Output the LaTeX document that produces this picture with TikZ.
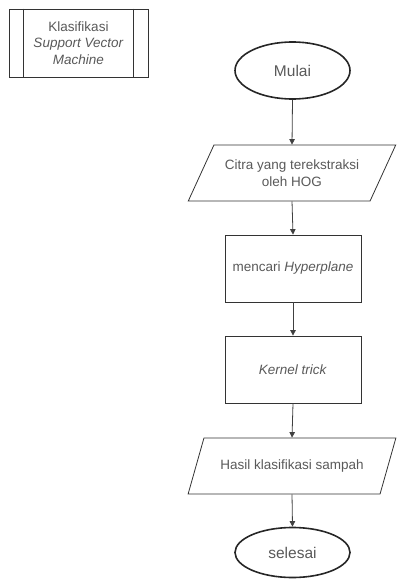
\documentclass[tikz,border=0pt]{standalone}
\usepackage{fontspec}
\setmainfont{Liberation Sans}
\usepackage{tikz}
\usetikzlibrary{arrows.meta,shapes.geometric}
\newcommand{\arw}{-{Triangle[length=5.5pt,width=5.5pt]}}

\begin{document}
\begin{tikzpicture}[x=1pt,y=-1pt,font=\fontsize{13.5}{16.5}\selectfont,
  txt/.style={text=black!65,align=center},
  terminal/.style={ellipse,draw=black!85,line width=1.6pt,minimum width=115pt,minimum height=57pt,font=\fontsize{15.5}{18}\selectfont,txt},
  io/.style={trapezium,trapezium left angle=55,trapezium right angle=125,trapezium stretches,draw=black!80,line width=.8pt,minimum width=208pt,minimum height=56pt,txt},
  proc/.style={rectangle,draw=black!80,line width=.8pt,minimum width=136pt,minimum height=67pt,txt}]
\useasboundingbox (0,0) rectangle (398,583);
%predefined process
\node[proc,minimum width=139pt,minimum height=68pt] (svm) at (78.5,43) {Klasifikasi\\\textit{Support Vector}\\\textit{Machine}};
\draw[black!80,line width=.8pt] ([xshift=15pt]svm.north west) -- ([xshift=15pt]svm.south west);
\draw[black!80,line width=.8pt] ([xshift=-15pt]svm.north east) -- ([xshift=-15pt]svm.south east);
%flow
\node[terminal] (mulai) at (292.5,70.5) {Mulai};
\node[io] (citra) at (292,173) {Citra yang terekstraksi\\oleh HOG};
\node[proc] (hyper) at (293,268.5) {mencari \textit{Hyperplane}};
\node[proc] (kernel) at (293,369.5) {\textit{Kernel trick}};
\node[io] (hasil) at (292,466) {Hasil klasifikasi sampah};
\node[terminal,minimum height=50pt] (selesai) at (292.5,552.5) {selesai};
\draw[black!75,line width=.8pt,\arw] (mulai.south) -- (citra.north);
\draw[black!75,line width=.8pt,\arw] (citra.south) -- (hyper.north);
\draw[black!75,line width=.8pt,\arw] (hyper.south) -- (kernel.north);
\draw[black!75,line width=.8pt,\arw] (kernel.south) -- (hasil.north);
\draw[black!75,line width=.8pt,\arw] (hasil.south) -- (selesai.north);
\end{tikzpicture}
\end{document}
